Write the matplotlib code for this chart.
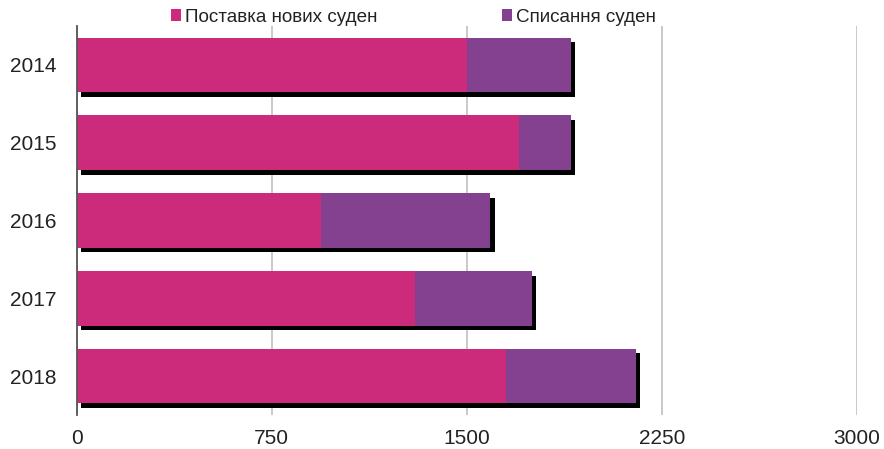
import matplotlib
matplotlib.use("Agg")
import matplotlib.pyplot as plt
import matplotlib.patheffects as pe

plt.rcParams['font.family'] = ['Liberation Sans', 'DejaVu Sans']

years = ["2014", "2015", "2016", "2017", "2018"]
new_ships = [1500, 1700, 940, 1300, 1650]
scrapped = [400, 200, 650, 450, 500]
series_names = ["Поставка нових суден", "Списання суден"]
x_ticks = [0, 750, 1500, 2250, 3000]

pink = "#CC2A7A"
purple = "#834190"

fig = plt.figure(figsize=(8.84, 4.49), dpi=100)
ax = fig.add_axes([76.7 / 884, 1 - 415 / 449, (857 - 76.7) / 884, (415 - 26) / 449])

ypos = list(range(len(years)))
b1 = ax.barh(ypos, new_ships, height=0.7, color=pink, label=series_names[0], zorder=3)
b2 = ax.barh(ypos, scrapped, left=new_ships, height=0.7, color=purple, label=series_names[1], zorder=3)

ax.set_xlim(0, 3000)
ax.set_ylim(4.5, -0.5)
ax.set_xticks(x_ticks)
ax.set_xticklabels([str(t) for t in x_ticks])
ax.set_yticks(ypos)
ax.set_yticklabels(years)
ax.tick_params(axis='both', length=0, labelsize=15, colors='#222222')
ax.tick_params(axis='y', pad=14.5)
ax.tick_params(axis='x', pad=10)

ax.grid(axis='x', color='#c0c0c0', linewidth=1.2, zorder=0)
ax.set_axisbelow(True)
for s in ['top', 'right', 'bottom']:
    ax.spines[s].set_visible(False)
ax.spines['left'].set_color('#555555')
ax.spines['left'].set_linewidth(1.3)
ax.spines['left'].set_zorder(5)

leg = ax.legend(loc='center', bbox_to_anchor=((413.5 - 76.7) / 780.3, 1 + (26 - 17) / 389),
                ncol=2, frameon=False, fontsize=13.6, handlelength=0.55, handleheight=0.55,
                handletextpad=0.2, columnspacing=6.6, borderaxespad=0)
for t in leg.get_texts():
    t.set_color('#222222')

shadow = [pe.SimplePatchShadow(offset=(3.3, -3.3), shadow_rgbFace='black', alpha=1.0), pe.Normal()]
for bar in list(b1) + list(b2):
    bar.set_path_effects(shadow)

fig.savefig("out.png", dpi=100)
